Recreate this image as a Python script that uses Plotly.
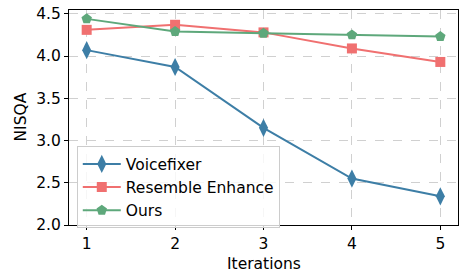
import plotly.graph_objects as go

iterations = [1, 2, 3, 4, 5]
voicefixer = [4.07, 3.87, 3.15, 2.55, 2.34]
resemble = [4.31, 4.37, 4.28, 4.09, 3.93]
ours = [4.44, 4.29, 4.27, 4.25, 4.23]

series = [
    ("Voicefixer", voicefixer, "#3d7ea6", "diamond-tall", 13),
    ("Resemble Enhance", resemble, "#f07070", "square", 10),
    ("Ours", ours, "#5ea87b", "pentagon", 11),
]

fig = go.Figure()
for name, vals, color, sym, size in series:
    fig.add_trace(go.Scatter(
        x=iterations, y=vals, name=name, mode="lines+markers",
        line=dict(color=color, width=2),
        marker=dict(symbol=sym, size=size, color=color, line=dict(width=0)),
    ))

font = dict(family="DejaVu Sans", size=15.5, color="black")
axis_common = dict(
    showline=True, linecolor="black", linewidth=1.2, mirror=True,
    ticks="outside", ticklen=4, tickcolor="black", tickwidth=1,
    showgrid=True, gridcolor="#d0d0d0", griddash="dash", gridwidth=1,
    zeroline=False, tickfont=font, automargin=False,
    ticklabeloverflow="allow",
)
fig.update_layout(
    width=459, height=272,
    margin=dict(l=69, r=1, t=10, b=47),
    paper_bgcolor="white", plot_bgcolor="white",
    font=font,
    showlegend=True,
    legend=dict(
        x=0.02, y=0.366, xanchor="left", yanchor="top",
        bgcolor="rgba(255,255,255,0.8)", bordercolor="#cccccc", borderwidth=1,
        font=font, tracegroupgap=0, itemwidth=38,
    ),
    xaxis=dict(axis_common, range=[0.8, 5.2], tickvals=iterations),
    yaxis=dict(axis_common, range=[2.0, 4.545], tickvals=[2.0, 2.5, 3.0, 3.5, 4.0, 4.5],
               ticktext=["2.0", "2.5", "3.0", "3.5", "4.0", "4.5"]),
    annotations=[
        dict(text="Iterations", x=0.5, y=-(264 - 225) / 215, xref="paper", yref="paper",
             xanchor="center", yanchor="middle", showarrow=False, font=font),
        dict(text="NISQA", x=-49 / 389, y=0.5, xref="paper", yref="paper",
             xanchor="center", yanchor="middle", showarrow=False, font=font,
             textangle=-90),
    ],
)
fig.write_html("out.html", config={"displayModeBar": False},
               post_script="document.body.style.margin='0';document.body.style.padding='0';")
